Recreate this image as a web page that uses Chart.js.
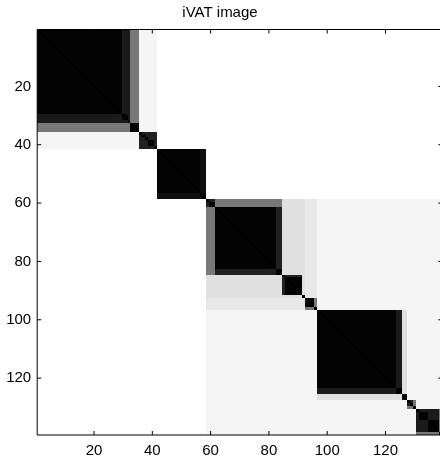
<!DOCTYPE html>
<html lang="en">
<head>
<meta charset="UTF-8">
<title>iVAT image</title>
<style>
    html, body { margin: 0; padding: 0; background: #fff; }
    #wrap { width: 440px; height: 461px; }
</style>
</head>
<body>
<div id="wrap"><canvas id="grafica" width="440" height="461"></canvas></div>
<script src="https://cdn.jsdelivr.net/npm/chart.js"></script>
<script>
    // VAT order: distance at which each point joins the points before it (0 = black, 1 = white).
    // iVAT value for points i < j is the largest join distance from i+1 up to j.
    const joinDist = [
        0.00, 0.01, 0.01, 0.01, 0.01, 0.01, 0.01, 0.01, 0.01, 0.01,   // 1-10
        0.01, 0.01, 0.01, 0.01, 0.01, 0.01, 0.01, 0.01, 0.01, 0.01,   // 11-20
        0.01, 0.01, 0.01, 0.01, 0.01, 0.01, 0.01, 0.01, 0.01, 0.10,   // 21-30
        0.03, 0.10, 0.47, 0.01, 0.01, 0.96, 0.13, 0.13, 0.13, 0.02,   // 31-40
        0.13, 1.00, 0.01, 0.01, 0.01, 0.01, 0.01, 0.01, 0.01, 0.01,   // 41-50
        0.01, 0.01, 0.01, 0.01, 0.01, 0.01, 0.06, 0.01, 1.00, 0.13,   // 51-60
        0.01, 0.47, 0.01, 0.01, 0.01, 0.01, 0.01, 0.01, 0.01, 0.01,   // 61-70
        0.01, 0.01, 0.01, 0.01, 0.01, 0.01, 0.01, 0.01, 0.01, 0.01,   // 71-80
        0.01, 0.01, 0.12, 0.01, 0.88, 0.13, 0.01, 0.01, 0.01, 0.01,   // 81-90
        0.01, 0.88, 0.91, 0.01, 0.01, 0.47, 0.96, 0.01, 0.01, 0.01,   // 91-100
        0.01, 0.01, 0.01, 0.01, 0.01, 0.01, 0.01, 0.01, 0.01, 0.01,   // 101-110
        0.01, 0.01, 0.01, 0.01, 0.01, 0.01, 0.01, 0.01, 0.01, 0.01,   // 111-120
        0.01, 0.01, 0.01, 0.10, 0.01, 0.88, 0.03, 0.96, 0.13, 0.47,   // 121-130
        0.96, 0.10, 0.01, 0.01, 0.10, 0.01, 0.01, 0.01, 0.47          // 131-139
    ];
    const xTicks = [20, 40, 60, 80, 100, 120];
    const yTicks = [20, 40, 60, 80, 100, 120];
    const titulo = 'iVAT image';

    const fuente = { family: "'Liberation Sans', Arial, Helvetica, sans-serif", size: 15 };

    // builds the n x n iVAT matrix as a small grey image, one pixel per cell
    function imagenIvat() {
        const n = joinDist.length;
        let maxV = 0;
        for (let k = 0; k < n; k++) maxV = Math.max(maxV, joinDist[k]);
        const off = document.createElement('canvas');
        off.width = n;
        off.height = n;
        const octx = off.getContext('2d');
        const img = octx.createImageData(n, n);
        for (let i = 0; i < n; i++) {
            let m = 0;
            for (let j = i; j < n; j++) {
                if (j > i) m = Math.max(m, joinDist[j]);
                const g = Math.round(255 * m / maxV);
                for (const p of [i * n + j, j * n + i]) {
                    img.data[p * 4] = g;
                    img.data[p * 4 + 1] = g;
                    img.data[p * 4 + 2] = g;
                    img.data[p * 4 + 3] = 255;
                }
            }
        }
        octx.putImageData(img, 0, 0);
        return off;
    }

    const ivatPlugin = {
        id: 'ivat',
        beforeDatasetsDraw(chart) {
            const { ctx, chartArea: a, scales: { x, y } } = chart;
            const n = joinDist.length;
            const x0 = x.getPixelForValue(0.5), x1 = x.getPixelForValue(n + 0.5);
            const y0 = y.getPixelForValue(0.5), y1 = y.getPixelForValue(n + 0.5);
            ctx.save();
            ctx.beginPath();
            ctx.rect(a.left, a.top, a.right - a.left, a.bottom - a.top);
            ctx.clip();
            ctx.imageSmoothingEnabled = false;
            ctx.drawImage(imagenIvat(), x0, y0, x1 - x0, y1 - y0);
            ctx.restore();
        }
    };

    // MATLAB style box with inward ticks on all four sides
    const ejesPlugin = {
        id: 'ejes',
        afterDraw(chart) {
            const { ctx, chartArea: a, scales: { x, y } } = chart;
            const derecha = x.getPixelForValue(joinDist.length + 0.5);
            const t = 4;
            ctx.save();
            ctx.strokeStyle = '#000';
            ctx.lineWidth = 1;
            ctx.beginPath();
            ctx.moveTo(derecha, a.top);
            ctx.lineTo(a.left, a.top);
            ctx.lineTo(a.left, a.bottom);
            ctx.lineTo(derecha, a.bottom);
            ctx.lineTo(derecha, a.top);
            xTicks.forEach(v => {
                const px = x.getPixelForValue(v);
                ctx.moveTo(px, a.bottom); ctx.lineTo(px, a.bottom - t);
                ctx.moveTo(px, a.top); ctx.lineTo(px, a.top + t);
            });
            yTicks.forEach(v => {
                const py = y.getPixelForValue(v);
                ctx.moveTo(a.left, py); ctx.lineTo(a.left + t, py);
                ctx.moveTo(derecha, py); ctx.lineTo(derecha - t, py);
            });
            ctx.stroke();
            ctx.restore();
        }
    };

    const ctx = document.getElementById('grafica').getContext('2d');
    const myChart = new Chart(ctx, {
        type: 'scatter',
        data: { datasets: [{ label: titulo, data: [] }] },
        options: {
            responsive: false,
            animation: false,
            devicePixelRatio: 1,
            layout: { padding: 0 },
            plugins: {
                legend: { display: false },
                tooltip: { enabled: false },
                title: {
                    display: true,
                    text: titulo,
                    color: '#000',
                    font: { family: fuente.family, size: 15, weight: 'normal' },
                    padding: { top: 4, bottom: 7.5 }
                }
            },
            scales: {
                x: {
                    type: 'linear',
                    min: 0.5,
                    max: 138.7, // figure is cut at the right edge
                    grid: { display: false, drawTicks: false },
                    border: { display: false },
                    afterBuildTicks: s => { s.ticks = xTicks.map(v => ({ value: v })); },
                    afterFit: s => { s.height = 26; },
                    ticks: { color: '#000', font: fuente, padding: 7, maxRotation: 0 }
                },
                y: {
                    type: 'linear',
                    reverse: true,
                    min: 0.5,
                    max: 139.5,
                    grid: { display: false, drawTicks: false },
                    border: { display: false },
                    afterBuildTicks: s => { s.ticks = yTicks.map(v => ({ value: v })); },
                    afterFit: s => { s.width = 37.2; },
                    ticks: { color: '#000', font: fuente, padding: 6 }
                }
            }
        },
        plugins: [ivatPlugin, ejesPlugin]
    });
</script>
</body>
</html>
